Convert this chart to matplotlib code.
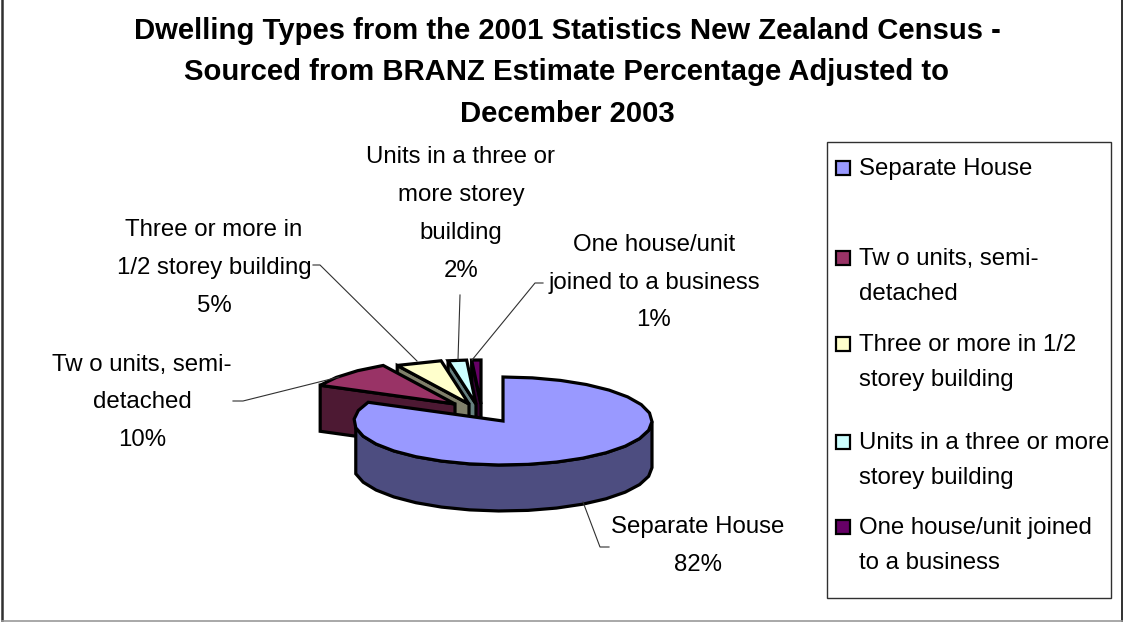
# -*- coding: utf-8 -*-
import numpy as np
import matplotlib
matplotlib.use('Agg')
import matplotlib.pyplot as plt
from matplotlib.patches import Polygon, Rectangle

title_lines = ['Dwelling Types from the 2001 Statistics New Zealand Census -',
               'Sourced from BRANZ Estimate Percentage Adjusted to',
               'December 2003']
names = ['Separate House', 'Two units, semi-detached',
         'Three or more in 1/2 storey building',
         'Units in a three or more storey building',
         'One house/unit joined to a business']
shares = [82, 10, 5, 2, 1]

top_colors = ['#9999FF', '#993366', '#FFFFCC', '#CCFFFF', '#660066']
side_colors = ['#4D4D80', '#4D1933', '#80806A', '#668080', '#330033']

# where each slice's apex sits, in pixels
apex_x = [503, 455, 469, 476, 481]
apex_y = [421, 404, 404, 404, 404]
RX, RY, DEPTH = 149, 44, 46

plt.rcParams['font.family'] = ['Liberation Sans', 'DejaVu Sans']

fig = plt.figure(figsize=(11.23, 6.22), dpi=100)
ax = fig.add_axes([0, 0, 1, 1])
ax.set_xlim(0, 1123)
ax.set_ylim(622, 0)
ax.axis('off')

# chart frame: no top edge shows in the picture
ax.plot([1.5, 1.5], [0, 621], color='#303030', lw=1.8)
ax.plot([1122, 1122], [0, 621], color='#303030', lw=1.4)
ax.plot([1.5, 1122], [621, 621], color='#999999', lw=1.2)

for i, line in enumerate(title_lines):
    ax.text(567, 31 + i * 41.5, line, ha='center', va='center', fontsize=21.1,
            fontweight='bold', color='black')

total = sum(shares)
stops = np.cumsum([0] + shares) / total * 2 * np.pi


def wedge(i):
    # outline of one slice, clockwise from 12 o'clock, coarse like the original
    n = max(2, int((stops[i + 1] - stops[i]) / np.radians(11)) + 1)
    a = np.linspace(stops[i], stops[i + 1], n)
    x = apex_x[i] + RX * np.sin(a)
    y = apex_y[i] - RY * np.cos(a)
    return np.column_stack([np.r_[apex_x[i], x], np.r_[apex_y[i], y]])


for i in [4, 3, 2, 1]:
    # only the cut face from apex to first rim point can be seen
    pts = wedge(i)
    p, q = pts[0], pts[1]
    face = [p, q, q + [0, DEPTH], p + [0, DEPTH]]
    ax.add_patch(Polygon(face, fc=side_colors[i], ec='black', lw=2.3, zorder=5 - i))
for i in [4, 3, 2, 1]:
    ax.add_patch(Polygon(wedge(i), fc=top_colors[i], ec='black', lw=2.3, zorder=6))

main = wedge(0)
rim = main[1:]
rim = rim[rim[:, 1] >= apex_y[0] - 1]
ax.add_patch(Polygon(np.vstack([rim, rim[::-1] + [0, DEPTH]]), fc=side_colors[0], ec='black',
                     lw=2.3, zorder=7))
ax.add_patch(Polygon(main, fc=top_colors[0], ec='black', lw=2.3, zorder=8))

# leader lines
leaders = [([583, 600, 609], [502, 547, 547]),
           ([233, 243, 339], [401, 401, 377]),
           ([313, 320, 417], [265, 265, 361]),
           ([458, 460], [360, 295]),
           ([472, 535, 543], [360, 283, 283])]
for lx, ly in leaders:
    ax.plot(lx, ly, color='#303030', lw=0.8, zorder=9)

labels = [(698, 527, 'Separate House'), (698, 565, '82%'),
          (142, 365, 'Tw o units, semi-'), (142, 402, 'detached'), (142, 440, '10%'),
          (214, 230, 'Three or more in'), (214, 268, '1/2 storey building'), (214, 306, '5%'),
          (461, 157, 'Units in a three or'), (461, 195, 'more storey'),
          (461, 233, 'building'), (461, 271, '2%'),
          (654, 245, 'One house/unit'), (654, 283, 'joined to a business'), (654, 320, '1%')]
for x, y, s in labels:
    ax.text(x, y, s, ha='center', va='center', fontsize=17.3, color='black', zorder=10)

# legend
ax.add_patch(Rectangle((827, 142), 284, 456, fill=False, ec='#303030', lw=1))
legend_rows = [(168, ['Separate House']),
               (258, ['Tw o units, semi-', 'detached']),
               (344, ['Three or more in 1/2', 'storey building']),
               (442, ['Units in a three or more', 'storey building']),
               (527, ['One house/unit joined', 'to a business'])]
for i, (y, rows) in enumerate(legend_rows):
    ax.add_patch(Rectangle((836, y - 7), 14, 14, fc=top_colors[i], ec='black', lw=1.6))
    for j, s in enumerate(rows):
        ax.text(859, y + 1 + j * 35, s, ha='left', va='center', fontsize=17.3, color='black')

fig.savefig('out.png', dpi=100)
